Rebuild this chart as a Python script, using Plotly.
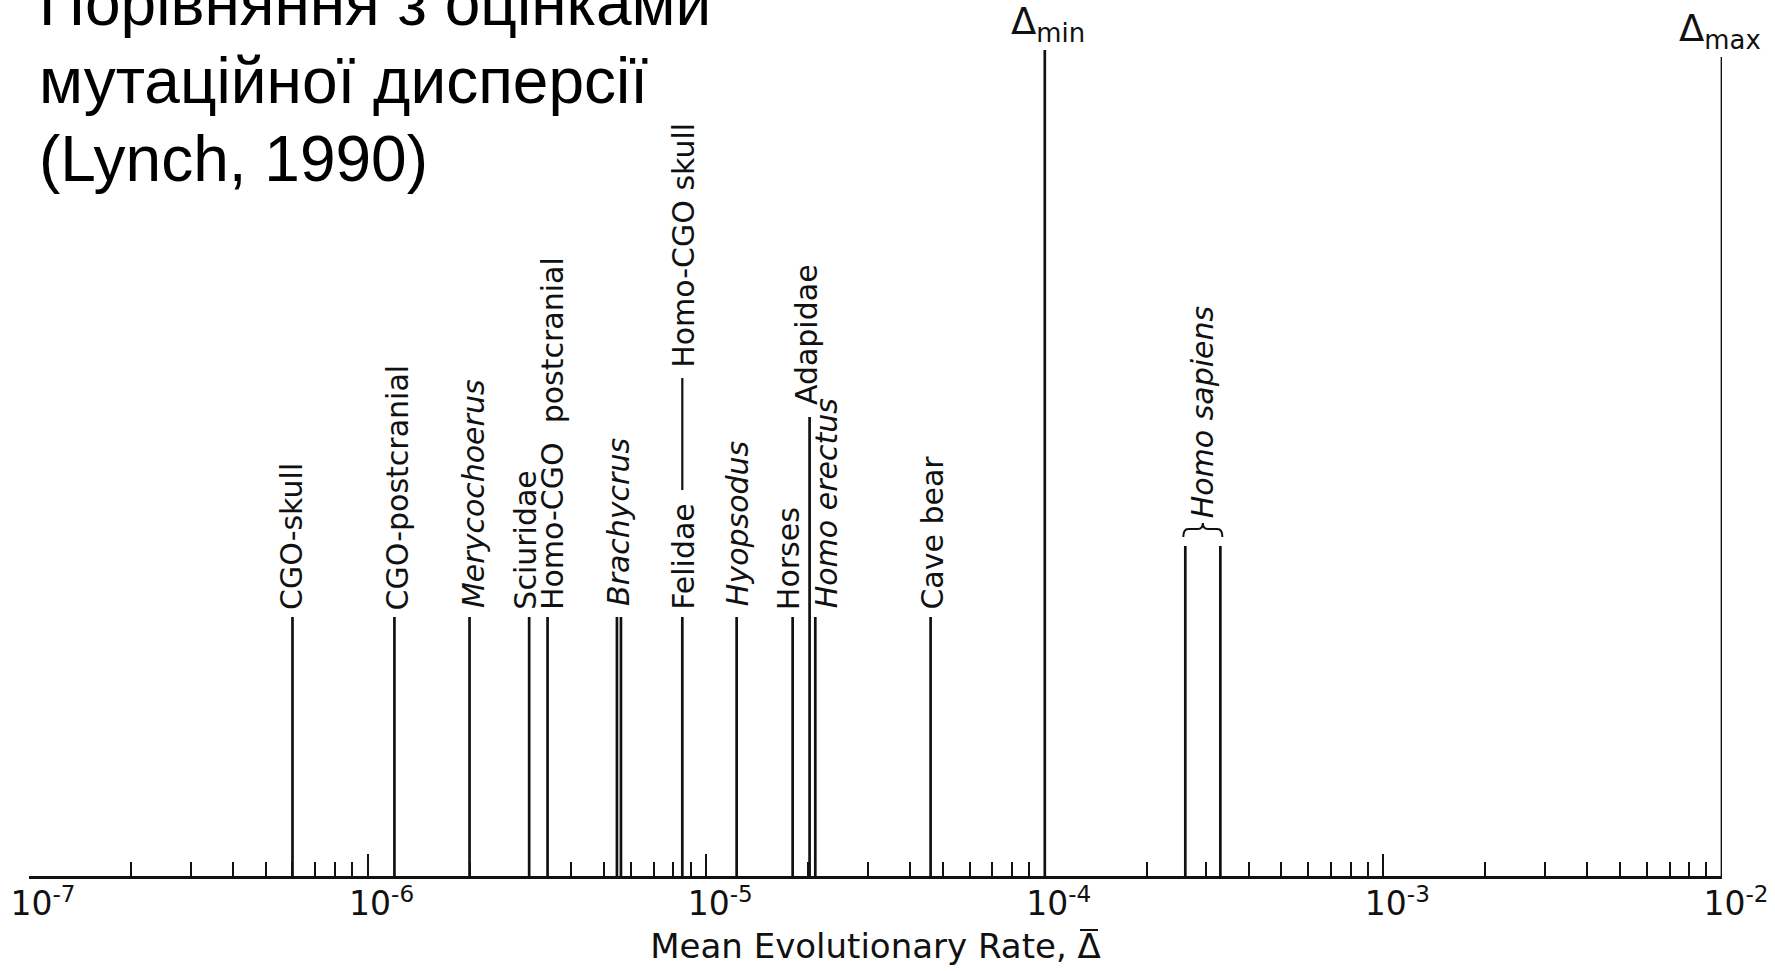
import math
import plotly.graph_objects as go

# ---------------- data ----------------
taxa = ["CGO-skull", "CGO-postcranial", "Merycochoerus", "Sciuridae",
        "Homo-CGO postcranial", "Brachycrus", "Brachycrus", "Felidae",
        "Hyopsodus", "Horses", "Adapidae", "Homo erectus", "Cave bear",
        "Homo sapiens", "Homo sapiens"]
rates = [6.0e-7, 1.2e-6, 2.0e-6, 3.0e-6, 3.4e-6, 5.45e-6, 5.6e-6, 8.5e-6,
         1.23e-5, 1.8e-5, 2.02e-5, 2.1e-5, 4.6e-5, 2.6e-4, 3.3e-4]
delta_names = ["min", "max"]
delta_rates = [1.0e-4, 1.0e-2]
tick_vals = [1e-7, 1e-6, 1e-5, 1e-4, 1e-3, 1e-2]
tick_text = ["10<sup>-7</sup>", "10<sup>-6</sup>", "10<sup>-5</sup>",
             "10<sup>-4</sup>", "10<sup>-3</sup>", "10<sup>-2</sup>"]
title_lines = ["Порівняння з оцінками", "мутаційної дисперсії", "(Lynch, 1990)"]
x_title = "Mean Evolutionary Rate, \u0394"

# ---------------- layout / style (pixels above the baseline) ----------------
W, H = 1775, 971
PL, PR, BASE = 29, 1722, 876           # plot area left/right, baseline (px)
stem_height = [259, 259, 259, 259, 259, 259, 259, 259,
               259, 259, 459, 259, 259, 330, 330]
delta_height = [826, 819]
delta_xshift = [-36, -45]

# (text, stems it belongs to, italic, xshift px, label bottom height)
label_spec = [
    ("CGO-skull", [0], False, -1, 264),
    ("CGO-postcranial", [1], False, 3, 264),
    ("Merycochoerus", [2], True, 4, 266),
    ("Sciuridae", [3], False, -4, 264),
    ("Homo-CGO\u00a0\u00a0postcranial", [4], False, 5, 264),
    ("Brachycrus", [5, 6], True, -1, 268),
    ("Felidae", [7], False, 1, 264),
    ("Homo-CGO\u00a0skull", [7], False, 1, 506),
    ("Hyopsodus", [8], True, 1, 268),
    ("Horses", [9], False, -4, 264),
    ("Adapidae", [10], False, -3, 469),
    ("Homo erectus", [11], True, 11, 266),
    ("Cave bear", [12], False, 1, 264),
    ("Homo sapiens", [13, 14], True, 0, 356),
]
leader_span = (386, 498)     # Felidae -> Homo-CGO skull connector
brace_y = (339, 347, 353)    # end, bar, tip
overbar_px = (1080, 1098, 930)   # x0, x1, y (page pixels) of the bar over the title's delta

INK = "#111111"
LABEL_FONT = "DejaVu Sans"
LABEL_SIZE = 30

fig = go.Figure()

# stems
sx, sy = [], []
for r, h in zip(rates, stem_height):
    sx += [r, r, None]
    sy += [0, h, None]
for r, h in zip(delta_rates, delta_height):
    sx += [r, r, None]
    sy += [0, h, None]
fig.add_trace(go.Scatter(x=sx, y=sy, mode="lines", cliponaxis=False,
                         line=dict(color=INK, width=2.7), hoverinfo="skip",
                         showlegend=False))

# leader line Felidae -> Homo-CGO skull
fel = rates[taxa.index("Felidae")]
fig.add_trace(go.Scatter(x=[fel, fel], y=list(leader_span), mode="lines",
                         line=dict(color=INK, width=2.2), hoverinfo="skip",
                         showlegend=False))

annotations = []
for text, idx, italic, xs, yb in label_spec:
    lx = sum(math.log10(rates[i]) for i in idx) / len(idx)
    t = f"<i>{text}</i>" if italic else text
    annotations.append(dict(x=lx, y=yb, xref="x", yref="y", text=t,
                            textangle=-90, showarrow=False, xanchor="center",
                            yanchor="bottom", xshift=xs,
                            font=dict(family=LABEL_FONT, size=LABEL_SIZE, color=INK)))

for name, r, h, xs in zip(delta_names, delta_rates, delta_height, delta_xshift):
    annotations.append(dict(x=math.log10(r), y=h, xref="x", yref="y",
                            text=f"\u0394<sub>{name}</sub>", showarrow=False,
                            xanchor="left", yanchor="bottom", xshift=xs,
                            font=dict(family=LABEL_FONT, size=37, color=INK)))

# title (three lines, partly cut at the top like the slide)
title_y = [873, 795, 717]
for line, ty in zip(title_lines, title_y):
    annotations.append(dict(x=(37 - PL) / (PR - PL), y=ty, xref="paper", yref="y",
                            text=line, showarrow=False, xanchor="left",
                            yanchor="middle",
                            font=dict(family="Liberation Sans, Arial", size=64,
                                      color="black")))

# brace over the two Homo sapiens estimates
def px(v):
    return (math.log10(v) + 7) / 5.0

hs = [r for r, t in zip(rates, taxa) if t == "Homo sapiens"]
xa, xb = px(hs[0]) - 2 / (PR - PL), px(hs[1]) + 2 / (PR - PL)
xm = (xa + xb) / 2
d = 5 / (PR - PL)
ye, yb_, yt = brace_y
path = (f"M {xa},{ye} Q {xa},{yb_} {xa + d},{yb_} L {xm - d},{yb_} "
        f"Q {xm},{yb_} {xm},{yt} Q {xm},{yb_} {xm + d},{yb_} "
        f"L {xb - d},{yb_} Q {xb},{yb_} {xb},{ye}")
fig.add_shape(type="path", path=path, xref="paper", yref="y",
              line=dict(color=INK, width=2))

# overbar on the delta of the axis title (mean rate symbol)
ox0, ox1, oy = overbar_px
fig.add_shape(type="line", xref="paper", yref="paper",
              x0=(ox0 - PL) / (PR - PL), x1=(ox1 - PL) / (PR - PL),
              y0=(BASE - oy) / BASE, y1=(BASE - oy) / BASE,
              line=dict(color=INK, width=2))

fig.update_layout(
    width=W, height=H,
    margin=dict(l=PL, r=W - PR, t=0, b=H - BASE),
    paper_bgcolor="white", plot_bgcolor="white",
    showlegend=False,
    annotations=annotations,
    xaxis=dict(type="log", range=[-7.00005, -1.99995], showgrid=False,
               zeroline=False,
               showline=True, linecolor=INK, linewidth=2.6,
               tickmode="array", tickvals=tick_vals, ticktext=tick_text,
               ticks="inside", ticklen=22, tickwidth=2.2, tickcolor=INK,
               minor=dict(ticks="inside", ticklen=14, tickwidth=2,
                          tickcolor=INK, dtick="D1", showgrid=False),
               tickfont=dict(family=LABEL_FONT, size=33, color=INK),
               ticklabelshift=14, ticklabelstandoff=-3,
               title=dict(text=x_title, standoff=12,
                          font=dict(family=LABEL_FONT, size=34, color=INK))),
    yaxis=dict(range=[0, BASE], visible=False, fixedrange=True),
)

fig.write_html("out.html")
